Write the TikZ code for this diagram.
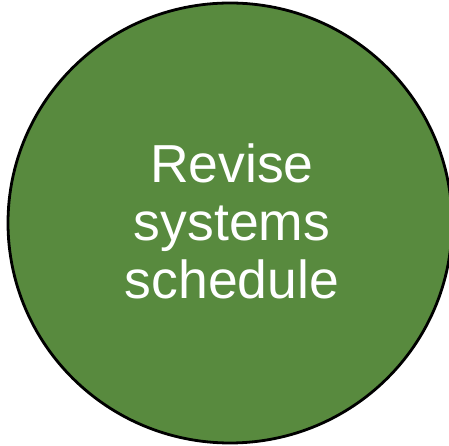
\documentclass[tikz,border=0pt]{standalone}
\usepackage{fontspec}
\setmainfont{Liberation Sans}
\usetikzlibrary{shapes.geometric}
\definecolor{circgreen}{RGB}{88,138,62}
\tikzset{
  bubble/.style={ellipse, draw=black, line width=2.8pt, fill=circgreen,
    minimum width=444pt, minimum height=440pt, inner sep=0pt},
  bubbletext/.style={text=white, align=center, inner sep=0pt,
    font=\fontsize{53.5}{58}\selectfont}
}
\begin{document}
\begin{tikzpicture}[x=1pt,y=1pt]
\useasboundingbox (0,0) rectangle (449,446);
\node[bubble] (circ) at (230,223) {};
\node[bubbletext] (lbl) at (232,225) {Revise\\systems\\schedule};
\end{tikzpicture}
\end{document}
